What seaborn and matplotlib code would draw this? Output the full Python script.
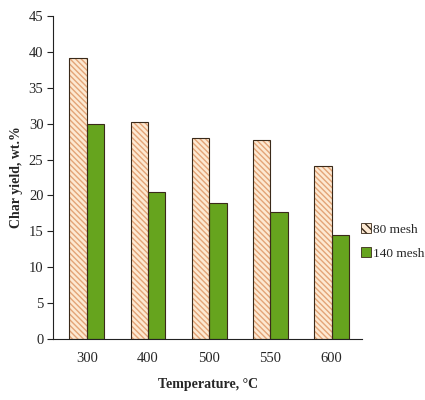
import matplotlib
matplotlib.use("Agg")
import matplotlib.pyplot as plt
from matplotlib.patches import Rectangle, Patch
import seaborn as sns
import pandas as pd

temperatures = ["300", "400", "500", "550", "600"]
mesh_80 = [39.2, 30.2, 28.0, 27.7, 24.1]
mesh_140 = [30.0, 20.5, 19.0, 17.7, 14.5]
series_names = ["80 mesh", "140 mesh"]
y_ticks = [0, 5, 10, 15, 20, 25, 30, 35, 40, 45]

df = pd.DataFrame({
    "Temperature": temperatures * 2,
    "Yield": mesh_80 + mesh_140,
    "Size": [series_names[0]] * len(temperatures) + [series_names[1]] * len(temperatures),
})

sns.set_style("white")
plt.rcParams["font.family"] = ["Liberation Serif", "DejaVu Serif"]

face_80 = "#fde9d2"
hatch_80 = "#e3a477"
green = "#66a41e"
edge = "#3a2a1a"
hatch_pattern = "\\\\\\\\\\\\"

fig = plt.figure(figsize=(4.25, 4.0), dpi=100)
ax = fig.add_axes([0.125, 0.1525, 0.727, 0.8075])

sns.barplot(data=df, x="Temperature", y="Yield", hue="Size",
            order=temperatures, hue_order=series_names,
            palette=[face_80, green], width=0.57, saturation=1,
            ax=ax, legend=False)

n = len(temperatures)
bars = ax.patches[:2 * n]
for i, bar in enumerate(bars):
    if i < n:
        bar.set_hatch(hatch_pattern)
        bar.set_edgecolor(hatch_80)
        bar.set_linewidth(0)
    else:
        bar.set_edgecolor(edge)
        bar.set_linewidth(0.8)
for bar in bars[:n]:
    ax.add_patch(Rectangle(bar.get_xy(), bar.get_width(), bar.get_height(),
                           fill=False, edgecolor=edge, linewidth=0.8))

ax.set_ylim(0, 45)
ax.set_yticks(y_ticks)
ax.set_xlim(-0.55, n - 0.5)
sns.despine(ax=ax)
for side in ("left", "bottom"):
    ax.spines[side].set_color("#222222")
    ax.spines[side].set_linewidth(0.8)
ax.tick_params(axis="y", which="major", left=True, length=4, width=0.8,
               color="#222222", labelsize=10.5, pad=3)
ax.tick_params(axis="x", bottom=False, labelsize=10.5, pad=6)

ax.set_xlabel("Temperature, °C", fontsize=10, fontweight="bold", labelpad=9)
ax.set_ylabel("Char yield, wt.%", fontsize=10, fontweight="bold", labelpad=4)

handles = [
    Patch(facecolor=face_80, edgecolor=edge, hatch="\\\\\\\\", linewidth=0.6),
    Patch(facecolor=green, edgecolor=edge, linewidth=0.6),
]
fig.legend(handles, series_names, loc="upper left", bbox_to_anchor=(0.838, 0.455),
           frameon=False, fontsize=9.5, handlelength=0.7, handleheight=0.7,
           handletextpad=0.15, labelspacing=0.9, borderaxespad=0)

fig.savefig("out.png", dpi=100)
